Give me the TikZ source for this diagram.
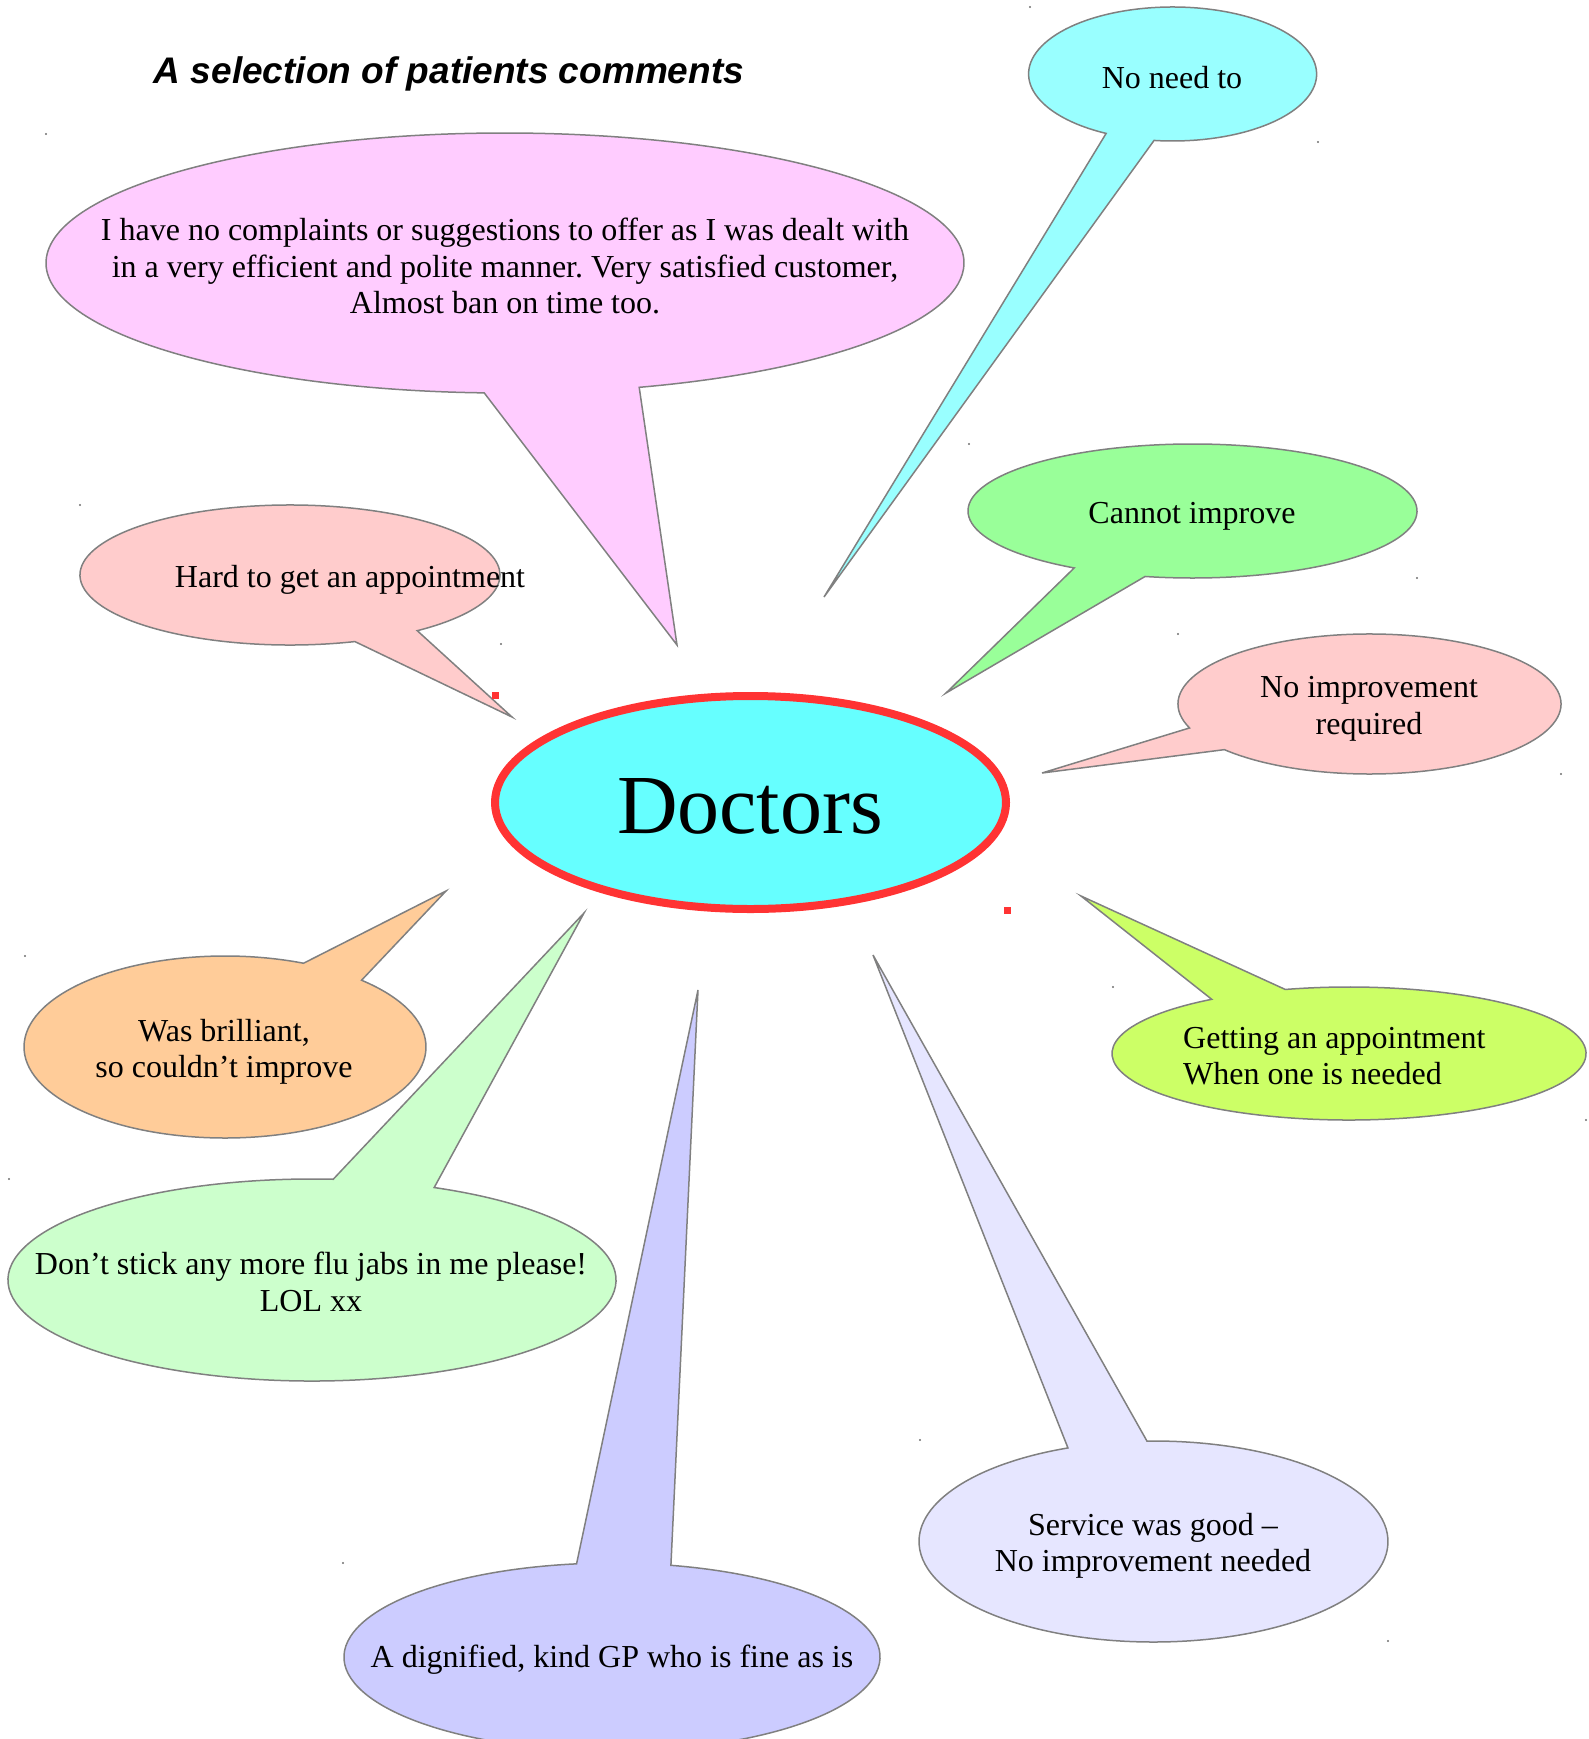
\documentclass[tikz,border=0pt]{standalone}
\usepackage{fontspec}
\setmainfont{Liberation Serif}
\newfontfamily\titlefont{Liberation Sans}
\usetikzlibrary{shapes.geometric}
\definecolor{edgegray}{RGB}{128,128,128}
\definecolor{dotgray}{RGB}{110,110,110}
\definecolor{docred}{RGB}{255,51,51}
\definecolor{doccyan}{RGB}{102,255,255}
\definecolor{pinkbig}{RGB}{255,204,255}
\definecolor{aqua}{RGB}{153,255,255}
\definecolor{mint}{RGB}{153,255,153}
\definecolor{rose}{RGB}{255,204,204}
\definecolor{peach}{RGB}{255,204,153}
\definecolor{pale}{RGB}{204,255,204}
\definecolor{lilac}{RGB}{204,204,255}
\definecolor{mist}{RGB}{230,230,255}
\definecolor{lime}{RGB}{204,255,102}
\frenchspacing
\begin{document}
\begin{tikzpicture}[x=1pt,y=-1pt,line cap=butt,line join=miter,
	bubble/.style={draw=edgegray,line width=1.5pt},
	say/.style={font=\fontsize{32}{36.5}\selectfont,align=center,inner sep=0pt}]
	\useasboundingbox (0,0) rectangle (1588,1739);
	\foreach \col/\cx/\cy/\rx/\ry/\ta/\tb/\px/\py in {
		pinkbig/505/263/459/130/92.6/433/677/645,
		aqua/1172.6/74/144/67/117.5/457.4/824/597,
		mint/1192.5/511/224.5/67/121.8/462.2/946/693,
		rose/1369.5/704/191.5/70/160/499.3/1042/773,
		rose/290/575/210/70/72/412.7/512/717,
		peach/225/1047/201/91/312.8/653/446/891,
		pale/312/1280/304/101/293.7/634/584/913,
		lilac/612/1657/268/94/282.7/622.4/698/990,
		mist/1153.5/1541.5/234.5/100.5/268.4/608.6/873/955,
		lime/1349/1053.5/237/66.5/254.4/594.6/1081/896}{
		\draw[bubble,fill=\col] (\px,\py) -- ([shift={({\rx*cos(\ta)},{\ry*sin(\ta)})}]\cx,\cy)
			arc[start angle=\ta,end angle=\tb,x radius=\rx,y radius=\ry] -- cycle;
	}
	\draw[docred,line width=8pt,fill=doccyan] (750.5,802.5) ellipse[x radius=255.5,y radius=106.5];
	\node[inner sep=0pt,font=\fontsize{84}{90}\selectfont] (doctors) at (750,806) {Doctors};
	\node[font=\titlefont\bfseries\itshape\fontsize{37}{40}\selectfont] (title) at (449,74) {A selection of patients comments};
	\node[say] (nocomplaints) at (505,266) {I have no complaints or suggestions to offer as I was dealt with\\in a very efficient and polite manner. Very satisfied customer,\\Almost ban on time too.};
	\node[say] (noneed) at (1172,78) {No need to};
	\node[say] (cannot) at (1192,516) {Cannot improve};
	\node[say] (noimp) at (1369,709) {No improvement\\required};
	\node[say] (hard) at (350,580) {Hard to get an appointment};
	\node[say] (brilliant) at (224,1052) {Was brilliant,\\so couldn’t improve};
	\node[say] (flujabs) at (311,1282) {Don’t stick any more flu jabs in me please!\\LOL xx};
	\node[say] (dignified) at (612,1660) {A dignified, kind GP who is fine as is};
	\node[say] (service) at (1153,1546) {Service was good –\\No improvement needed};
	\node[say,align=left,anchor=west] (getting) at (1183,1056) {Getting an appointment\\When one is needed};
	\foreach \p in {(1030,7),(46,134),(1318,142),(80,505),(969,444),(501,644),(1417,578),(1178,634),
		(1561,774),(25,956),(9,1179),(1113,987),(1586,1120),(920,1440),(343,1563),(1388,1641)}{
		\fill[dotgray] \p circle[radius=1.2];
	}
	\fill[docred] (491.5,691.5) rectangle +(7,7);
	\fill[docred] (1004,906.5) rectangle +(7,7);
\end{tikzpicture}
\end{document}
